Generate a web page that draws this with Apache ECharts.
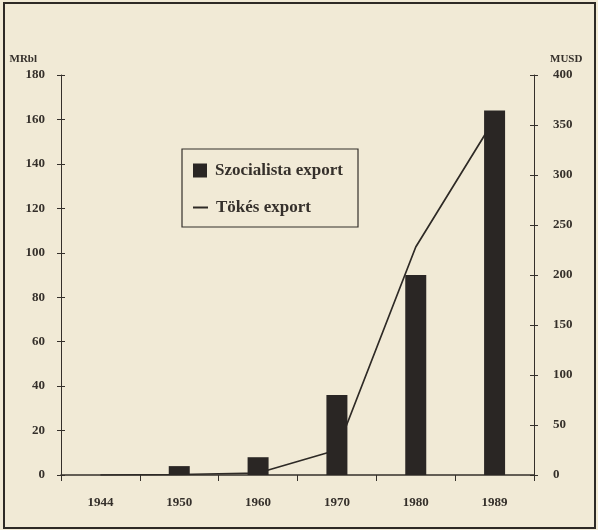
<!DOCTYPE html>
<html>
<head>
<meta charset="utf-8">
<script src="https://cdn.jsdelivr.net/npm/echarts@6/dist/echarts.min.js"></script>
<style>
html,body{margin:0;padding:0;background:#f1ead6;}
#c{width:598px;height:530px;}
</style>
</head>
<body>
<div id="c"></div>
<script>
var categories = ['1944', '1950', '1960', '1970', '1980', '1989'];
var socialistExport = [0, 4, 8, 36, 90, 164];
var capitalistExport = [0, 0.5, 2, 25, 228, 356];
var leftTicks = [0, 180, 20];
var rightTicks = [0, 400, 50];

var ink = '#35302b';
var font = 'Liberation Serif';

var chart = echarts.init(document.getElementById('c'));
var lbl = {color: ink, fontFamily: font, fontWeight: 'bold', fontSize: 13};
var legendText = {color: ink, fontFamily: font, fontWeight: 'bold', fontSize: 17, padding: [0, 0, 0, 3]};
chart.setOption({
  backgroundColor: '#f1ead6',
  animation: false,
  grid: {left: 61, right: 64, top: 75, bottom: 55},
  graphic: [
    {type: 'rect', shape: {x: 4, y: 3, width: 591, height: 525}, style: {fill: 'none', stroke: '#2e2a26', lineWidth: 2}},
    {type: 'rect', shape: {x: 182, y: 149, width: 176, height: 78}, style: {fill: 'none', stroke: ink, lineWidth: 1.2}}
  ],
  legend: [
    {
      left: 193, top: 162, orient: 'vertical',
      itemWidth: 14, itemHeight: 14, padding: 0,
      data: [{name: 'Szocialista export', icon: 'rect'}],
      textStyle: legendText
    },
    {
      left: 193, top: 199, orient: 'vertical',
      itemWidth: 15, itemHeight: 2, padding: 0,
      data: [{name: 'Tökés export', icon: 'rect'}],
      textStyle: legendText
    }
  ],
  xAxis: {
    type: 'category', data: categories,
    axisLine: {lineStyle: {color: ink, width: 1.5}},
    axisTick: {show: true, length: 6, lineStyle: {color: ink}},
    axisLabel: Object.assign({margin: 21}, lbl)
  },
  yAxis: [
    {
      type: 'value', position: 'left', min: leftTicks[0], max: leftTicks[1], interval: leftTicks[2],
      name: 'MRbl', nameLocation: 'end', nameGap: 10,
      nameTextStyle: {color: ink, fontFamily: font, fontWeight: 'bold', fontSize: 11, align: 'right', padding: [0, 24, 0, 0]},
      axisLine: {show: true, lineStyle: {color: ink}},
      axisTick: {show: true, length: 4, lineStyle: {color: ink}},
      splitLine: {show: false},
      axisLabel: Object.assign({margin: 16}, lbl)
    },
    {
      type: 'value', position: 'right', min: rightTicks[0], max: rightTicks[1], interval: rightTicks[2],
      name: 'MUSD', nameLocation: 'end', nameGap: 10,
      nameTextStyle: {color: ink, fontFamily: font, fontWeight: 'bold', fontSize: 11, align: 'left', padding: [0, 0, 0, 16]},
      axisLine: {show: true, lineStyle: {color: ink}},
      axisTick: {show: true, length: 4, lineStyle: {color: ink}},
      splitLine: {show: false},
      axisLabel: Object.assign({margin: 19}, lbl)
    },
    {
      type: 'value', position: 'left', min: leftTicks[0], max: leftTicks[1], interval: leftTicks[2],
      axisLine: {show: false}, axisLabel: {show: false}, splitLine: {show: false},
      axisTick: {show: true, inside: true, length: 4, lineStyle: {color: ink}}
    },
    {
      type: 'value', position: 'right', min: rightTicks[0], max: rightTicks[1], interval: rightTicks[2],
      axisLine: {show: false}, axisLabel: {show: false}, splitLine: {show: false},
      axisTick: {show: true, inside: true, length: 4, lineStyle: {color: ink}}
    }
  ],
  series: [
    {
      name: 'Tökés export', type: 'line', yAxisIndex: 1, data: capitalistExport,
      symbol: 'none', z: 1,
      lineStyle: {color: '#2e2a26', width: 1.7},
      itemStyle: {color: '#2e2a26'}
    },
    {
      name: 'Szocialista export', type: 'bar', yAxisIndex: 0, data: socialistExport,
      barWidth: 21, z: 3,
      itemStyle: {color: '#2a2624'}
    }
  ]
});
</script>
</body>
</html>
